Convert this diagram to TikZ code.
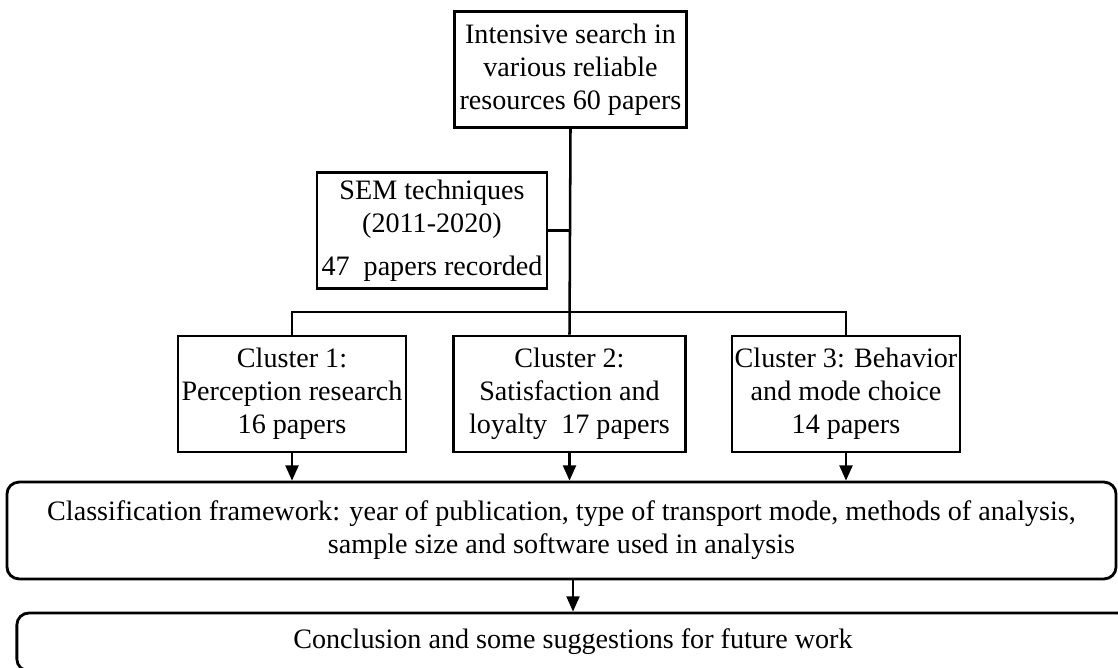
\documentclass[tikz,border=0pt]{standalone}
\usepackage{fontspec}
\setmainfont{Liberation Serif}
\usetikzlibrary{positioning,arrows.meta}
\newcommand{\boxfont}{\fontsize{20}{23.5}\selectfont}

\begin{document}
\begin{tikzpicture}[
    x=0.025cm, y=-0.025cm,
    every node/.style={font=\boxfont, align=center, inner sep=0pt},
    stage/.style={draw, line width=2pt, fill=white},
    roundstage/.style={stage, rounded corners=0.3cm},
    link/.style={line width=1.8pt},
    arr/.style={link, -{Triangle[length=0.38cm, width=0.32cm]}}
  ]
  \clip (0,0) rectangle (1118,668);
  \fill[white] (0,0) rectangle (1118,668);

  % --- top : search and SEM filter ---------------------------------------
  \node[stage, minimum width=5.78cm, minimum height=2.88cm] (search) at (570.5,69.5)
    {Intensive search in\\various reliable\\resources 60 papers};
  \node[stage, minimum width=5.75cm, minimum height=2.88cm] (sem) at (432,230.5)
    {SEM techniques\\(2011-2020)\\[7pt]47~ papers recorded};

  % --- three clusters ----------------------------------------------------
  \node[stage, minimum width=5.7cm, minimum height=2.9cm] (clA) at (292,394)
    {Cluster 1:\\Perception research\\16 papers};
  \node[stage, minimum width=5.78cm, minimum height=2.9cm] (clB) at (569.5,394)
    {Cluster 2:\\Satisfaction and\\loyalty~ 17 papers};
  \node[stage, minimum width=5.7cm, minimum height=2.9cm] (clC) at (846,394)
    {Cluster 3: Behavior\\and mode choice\\14 papers};
  \coordinate (bar) at (570,312);

  % --- framework and conclusion ------------------------------------------
  \node[roundstage, minimum width=27.72cm, minimum height=2.42cm] (frame) at (561.5,530.5)
    {Classification framework: year of publication, type of transport mode, methods of analysis,\\sample size and software used in analysis};
  \node[roundstage, minimum width=27.8cm, minimum height=1.45cm] (concl) at (573,642)
    {Conclusion and some suggestions for future work};

  % --- connectors --------------------------------------------------------
  \draw[link] (search.south) -- (clB.north);
  \draw[link] (sem.east) -- (sem.east -| search.south);
  \draw[link] (clA.north) -- (clA.north |- bar) -- (clC.north |- bar) -- (clC.north);
  \foreach \n in {clA,clB,clC} {\draw[arr] (\n.south) -- (\n.south |- frame.north);}
  \draw[arr] (concl.north |- frame.south) -- (concl.north);

\end{tikzpicture}
\end{document}
